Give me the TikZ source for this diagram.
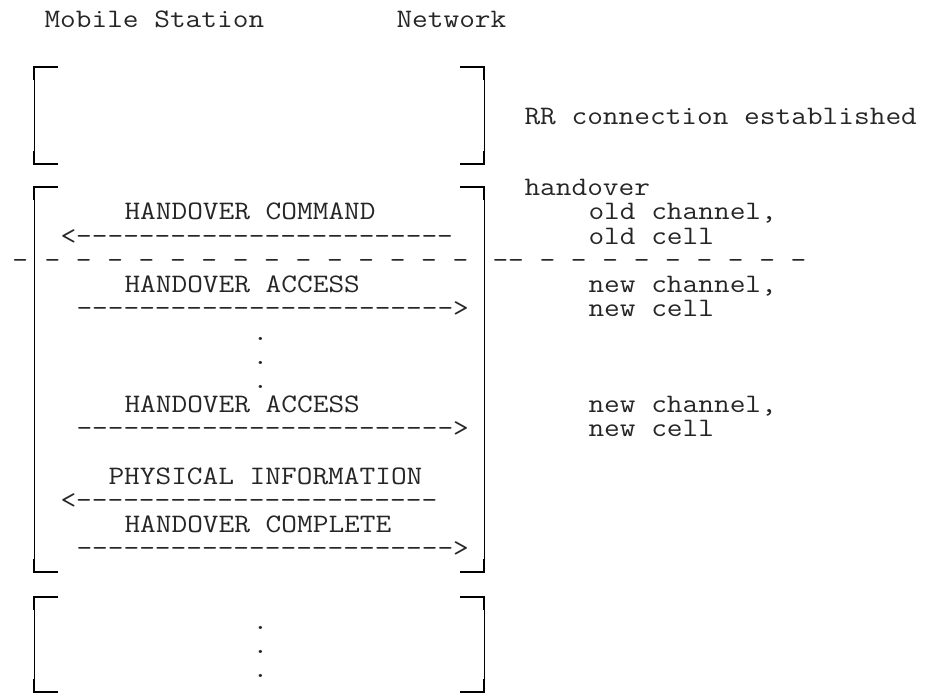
\documentclass[tikz,border=0pt]{standalone}
\usepackage{fontspec}
\setmonofont{Latin Modern Mono}[FakeStretch=1.143]
\begin{document}
\begin{tikzpicture}[x=1pt,y=-1pt,
  txt/.style={font=\ttfamily\fontsize{26.667}{30}\selectfont, anchor=base west, inner sep=0pt, outer sep=0pt, text=black!85},
  brthin/.style={line width=1pt},
  brthick/.style={line width=2pt, line join=miter, line cap=butt}]
\useasboundingbox (0,0) rectangle (929,695);
% brackets: #1 top, #2 bottom
\newcommand\brpair[2]{%
  \draw[brthin] (34,#1) -- (34,#2);
  \draw[brthin] (484,#1) -- (484,#2);
  \draw[brthick] (58,#1) -- (34,#1) -- (34,#1+13);
  \draw[brthick] (58,#2) -- (34,#2) -- (34,#2-13);
  \draw[brthick] (460,#1) -- (484,#1) -- (484,#1+13);
  \draw[brthick] (460,#2) -- (484,#2) -- (484,#2-13);
}
\brpair{67}{164}
\brpair{187}{572}
\brpair{597}{692}
\begin{scope}[xshift=3pt]
% titles
\node[txt] (ms) at (41.5,28) {Mobile Station};
\node[txt] (nw) at (393.5,28) {Network};
% right notes
\node[txt] (rr) at (521.5,125) {RR connection established};
\node[txt] (ho) at (521.5,196) {handover};
\node[txt] (oc1) at (585.5,220) {old channel,};
\node[txt] (oc2) at (585.5,244) {old cell};
\node[txt] (nc1) at (585.5,292) {new channel,};
\node[txt] (nc2) at (585.5,316) {new cell};
\node[txt] (nc3) at (585.5,412) {new channel,};
\node[txt] (nc4) at (585.5,436) {new cell};
% messages
\node[txt] (m1) at (121.5,220) {HANDOVER COMMAND};
\node[txt] (a1) at (57.5,244) {<------------------------};
\node[txt] (s0) at (9.5,268) {-};
\node[txt] (s1) at (41.5,268) {- - - - - - - - - - - - - -};
\node[txt] (s2) at (489.5,268) {-- - - - - - - - - -};
\node[txt] (m2) at (121.5,292) {HANDOVER ACCESS};
\node[txt] (a2) at (73.5,316) {------------------------>};
\node[txt] (d1) at (249.5,340) {.};
\node[txt] (d2) at (249.5,364) {.};
\node[txt] (d3) at (249.5,388) {.};
\node[txt] (m3) at (121.5,412) {HANDOVER ACCESS};
\node[txt] (a3) at (73.5,436) {------------------------>};
\node[txt] (m4) at (105.5,484) {PHYSICAL INFORMATION};
\node[txt] (a4) at (57.5,508) {<-----------------------};
\node[txt] (m5) at (121.5,532) {HANDOVER COMPLETE};
\node[txt] (a5) at (73.5,556) {------------------------>};
\node[txt] (d4) at (249.5,629) {.};
\node[txt] (d5) at (249.5,653) {.};
\node[txt] (d6) at (249.5,677) {.};
\end{scope}
\end{tikzpicture}
\end{document}
